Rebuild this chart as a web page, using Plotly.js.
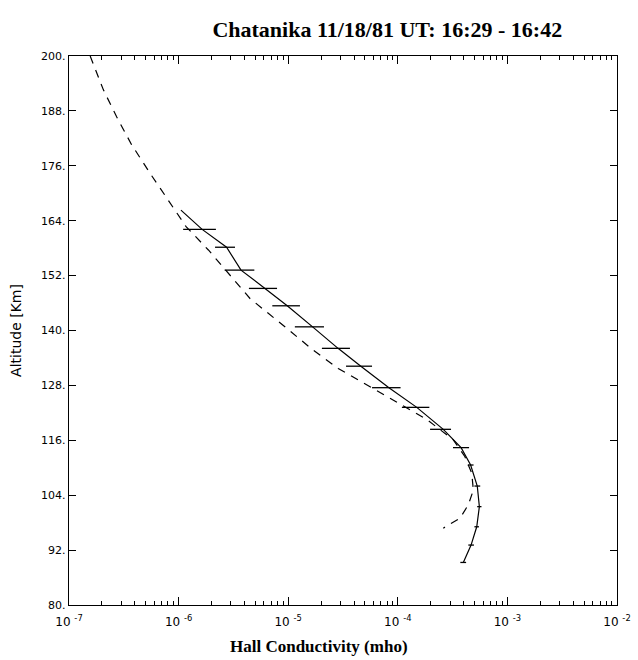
<!DOCTYPE html>
<html>
<head>
<meta charset="utf-8">
<script src="https://cdn.plot.ly/plotly-3.0.1.min.js"></script>
<style>html,body{margin:0;padding:0;background:#fff;}#chart{width:638px;height:660px;}</style>
</head>
<body>
<div id="chart"></div>
<script>
// Measured profile (solid, with horizontal error bars)
var solidAlt  = [166.3, 162.1, 158.2, 153.2, 149.2, 145.4, 140.8, 136.1, 132.2, 127.5, 123.2, 118.4, 114.4, 110.6, 106.0, 101.5, 97.1, 93.1, 89.3];
var solidHall = [1.05e-6, 1.64e-6, 2.74e-6, 3.71e-6, 6.14e-6, 9.8e-6, 1.67e-5, 2.85e-5, 4.6e-5, 8.3e-5, 1.49e-4, 2.6e-4, 3.78e-4, 4.62e-4, 5.31e-4, 5.55e-4, 5.25e-4, 4.66e-4, 3.96e-4];
var solidLow  = [1.05e-6, 1.10e-6, 2.15e-6, 2.63e-6, 4.38e-6, 7.16e-6, 1.15e-5, 2.03e-5, 3.37e-5, 5.82e-5, 1.09e-4, 1.97e-4, 3.19e-4, 4.35e-4, 5.0e-4, 5.3e-4, 5.0e-4, 4.4e-4, 3.72e-4];
var solidHigh = [1.05e-6, 2.19e-6, 3.27e-6, 4.91e-6, 7.91e-6, 1.28e-5, 2.12e-5, 3.66e-5, 5.82e-5, 1.06e-4, 1.94e-4, 3.06e-4, 4.47e-4, 4.91e-4, 5.65e-4, 5.8e-4, 5.5e-4, 4.95e-4, 4.2e-4];

// Model profile (dashed)
var dashAlt  = [200, 192.6, 186.7, 180.6, 174.4, 167.8, 162.7, 157.6, 152.5, 147.0, 140.5, 135.7, 131.7, 128.1, 124.4, 120.6, 116.1, 112.4, 108.8, 105.1, 101.9, 99.0, 96.8];
var dashHall = [1.56e-7, 2.06e-7, 2.72e-7, 3.73e-7, 5.48e-7, 8.36e-7, 1.17e-6, 1.87e-6, 2.84e-6, 4.48e-6, 9.68e-6, 1.69e-5, 2.86e-5, 5.2e-5, 9.77e-5, 1.83e-4, 3.21e-4, 4.10e-4, 4.73e-4, 4.89e-4, 4.40e-4, 3.70e-4, 2.60e-4];

// Tick labels
var xTickVals = [1e-7, 1e-6, 1e-5, 1e-4, 1e-3, 1e-2];
var xTickText = ['10 <sup>-7</sup>', '10 <sup>-6</sup>', '10 <sup>-5</sup>', '10 <sup>-4</sup>', '10 <sup>-3</sup>', '10 <sup>-2</sup>'];
var yTickVals = [80, 92, 104, 116, 128, 140, 152, 164, 176, 188, 200];
var yTickText = ['80.', '92.', '104.', '116.', '128.', '140.', '152.', '164.', '176.', '188.', '200.'];

var errPlus = solidHall.map(function (v, i) { return solidHigh[i] - v; });
var errMinus = solidHall.map(function (v, i) { return v - solidLow[i]; });

var minorVals = [];
for (var e = -7; e < -2; e++) {
  for (var m = 2; m <= 9; m++) minorVals.push(m * Math.pow(10, e));
}

var traces = [
  {
    x: dashHall, y: dashAlt, mode: 'lines', type: 'scatter',
    line: {color: '#000', width: 1.2, dash: '8px,7px'},
    hoverinfo: 'skip'
  },
  {
    x: solidHall, y: solidAlt, mode: 'lines', type: 'scatter',
    line: {color: '#000', width: 1.2},
    error_x: {type: 'data', symmetric: false, array: errPlus, arrayminus: errMinus,
              color: '#000', thickness: 1.3, width: 0}
  }
];

var layout = {
  width: 638, height: 660,
  paper_bgcolor: '#fff', plot_bgcolor: '#fff',
  showlegend: false,
  margin: {l: 69, r: 21, t: 56, b: 55},
  title: {
    text: '<b>Chatanika 11/18/81 UT: 16:29 - 16:42</b>',
    font: {family: 'Liberation Serif', size: 22, color: '#000'},
    xref: 'container', yref: 'container', x: 0.607, xanchor: 'center', y: 0.955, yanchor: 'middle'
  },
  xaxis: {
    type: 'log', range: [-7, -2],
    tickvals: xTickVals, ticktext: xTickText,
    ticks: 'inside', ticklen: 8, tickwidth: 1, tickcolor: '#000',
    minor: {tickvals: minorVals, ticks: 'inside', ticklen: 4, tickwidth: 1, tickcolor: '#000', showgrid: false},
    showline: true, linecolor: '#000', linewidth: 1.2, mirror: 'ticks',
    showgrid: false, zeroline: false,
    tickfont: {family: 'DejaVu Sans', size: 12, color: '#000'},
    ticklabelstandoff: 5
  },
  yaxis: {
    range: [80, 200],
    tickvals: yTickVals, ticktext: yTickText,
    ticks: 'inside', ticklen: 7, tickwidth: 1, tickcolor: '#000',
    showline: true, linecolor: '#000', linewidth: 1.2, mirror: 'ticks',
    showgrid: false, zeroline: false,
    tickfont: {family: 'DejaVu Sans', size: 11, color: '#000'},
    title: {text: 'Altitude [Km]', font: {family: 'DejaVu Sans', size: 14, color: '#000'}, standoff: 16}
  },
  annotations: [
    {
      text: '<b>Hall Conductivity (mho)</b>',
      xref: 'paper', yref: 'paper', x: 0.456, y: -0.0747,
      xanchor: 'center', yanchor: 'middle', showarrow: false,
      font: {family: 'Liberation Serif', size: 17, color: '#000'}
    }
  ]
};

Plotly.newPlot('chart', traces, layout, {displayModeBar: false, staticPlot: true});
</script>
</body>
</html>
